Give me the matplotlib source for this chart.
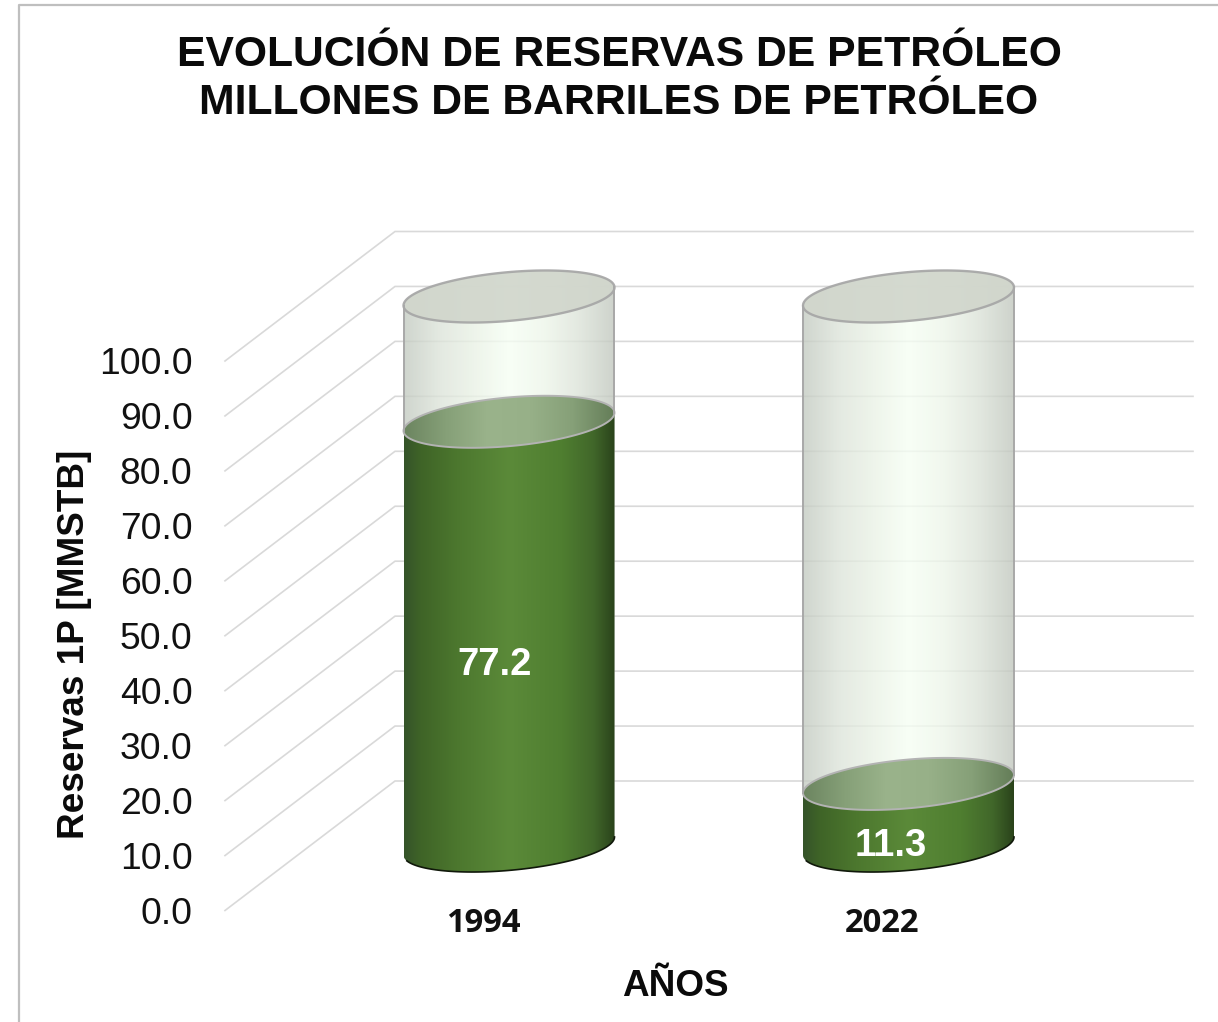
#!/usr/bin/env python3
"""Glass cylinder chart of 1P oil reserves, drawn with a fake 3D floor and wall."""

import matplotlib.pyplot as plt
import numpy as np
from matplotlib.colors import LinearSegmentedColormap
from matplotlib.lines import Line2D
from matplotlib.patches import Polygon

years = ["1994", "2022"]
reserves = [77.2, 11.3]
ticks = [0, 10, 20, 30, 40, 50, 60, 70, 80, 90, 100]

W, H = 1218, 1022
Y_MAX = 100

# pixel scales of the category and value axes, and where zero sits on the bar plane
PX_CAT = 399.5
PX_VAL = 5.495
X0_PX = 509
Y0_PX = 846

# depth of the fake 3D box, in pixels
WALL_LEFT = 395
WALL_RIGHT = 1193
FLOOR_LEFT = 225
BACK_DY = 65
FRONT_DY = 64.5

# cylinder shape, in pixels
RX = 105.5
RY = 24.4
SHEAR = 0.0857

# the value labels do not sit quite on the cylinder axis
VALUE_DX = [-10.5, -13]

plt.rcParams["font.family"] = ["Liberation Sans", "DejaVu Sans"]

GREEN = LinearSegmentedColormap.from_list(
    "green", [(0, "#35542a"), (0.08, "#3f6427"), (0.25, "#4c772e"), (0.5, "#5b8a39"),
              (0.75, "#4f7e30"), (0.9, "#41672a"), (1, "#2a431b")])
LIQUID_TOP = LinearSegmentedColormap.from_list(
    "liquid_top", ["#6c8560", "#86a078", "#9ab38b", "#97b088", "#86a078", "#647d58"])
GLASS = LinearSegmentedColormap.from_list(
    "glass", ["#c4cbc2", "#dde4da", "#eaf2e6", "#f6fff4", "#eef6ea", "#dce3d9", "#c2c8bf"])


def px_x(px):
    return (px - X0_PX) / PX_CAT


def px_y(px):
    return (Y0_PX - px) / PX_VAL


def ellipse(center, value, t):
    # sheared ellipse, so the left and right tangents stay vertical
    x = center + RX * np.cos(t) / PX_CAT
    y = value + (RY * np.sin(t) + SHEAR * RX * np.cos(t)) / PX_VAL
    return np.column_stack([x, y])


def shade(ax, center, low, high, cmap, clip, alpha=1.0):
    grad = np.linspace(0, 1, 256).reshape(1, -1)
    im = ax.imshow(grad, cmap=cmap, aspect="auto", origin="lower", alpha=alpha, zorder=clip.get_zorder(),
                   extent=[center - RX / PX_CAT, center + RX / PX_CAT, low, high])
    ax.add_patch(clip)
    im.set_clip_path(clip)


def side_wall(center, low, high):
    lower = ellipse(center, low, np.linspace(np.pi, 2 * np.pi, 80))
    upper = ellipse(center, high, np.linspace(0, np.pi, 80))
    return np.vstack([lower, upper])


def draw_cylinder(ax, center, value):
    span = (RY + SHEAR * RX + 2) / PX_VAL
    all_t = np.linspace(0, 2 * np.pi, 160)

    # glass body up to the axis maximum, the wall lines show through a little
    body = Polygon(side_wall(center, 0, Y_MAX), closed=True, fc="none", ec="none", zorder=3)
    shade(ax, center, -span, Y_MAX + span, GLASS, body, alpha=0.8)

    # filled part
    fill = Polygon(side_wall(center, 0, value), closed=True, fc="none", ec="none", zorder=4)
    shade(ax, center, -span, value + span, GREEN, fill)
    surface = Polygon(ellipse(center, value, all_t), closed=True, fc="none", ec="none", zorder=5)
    shade(ax, center, value - span, value + span, LIQUID_TOP, surface)
    ax.add_patch(Polygon(ellipse(center, value, all_t), closed=True, fc="none", ec="#b3b3b3", lw=1.4, zorder=6))

    # glass lid and outline
    ax.add_patch(Polygon(ellipse(center, Y_MAX, all_t), closed=True, fc="#d1d6cc", ec="#a6a6a6", lw=1.7,
                         alpha=0.92, zorder=6))
    for side in (-1, 1):
        xs = [center + side * RX / PX_CAT] * 2
        ys = [value + side * SHEAR * RX / PX_VAL, Y_MAX + side * SHEAR * RX / PX_VAL]
        ax.plot(xs, ys, color="#a8a8a8", lw=1.4, zorder=6)
    base = ellipse(center, 0, np.linspace(np.pi * 1.08, 2 * np.pi, 80))
    ax.plot(base[:, 0], base[:, 1], color="#10180a", lw=1.2, zorder=6)


fig = plt.figure(figsize=(W / 100, H / 100), dpi=100)
ax = fig.add_axes([0, 0, 1, 1])
ax.axis("off")

# box gridlines: diagonal on the floor side, then flat along the back wall
for t in ticks:
    ax.plot([px_x(FLOOR_LEFT), px_x(WALL_LEFT), px_x(WALL_RIGHT)],
            [t - FRONT_DY / PX_VAL, t + BACK_DY / PX_VAL, t + BACK_DY / PX_VAL],
            color="#d9d9d9", lw=1.2, zorder=1, solid_joinstyle="miter")
    ax.text(px_x(192.5), t - FRONT_DY / PX_VAL, f"{t:.1f}", ha="right", va="center_baseline",
            fontsize=26.8, color="#111111", zorder=8)

for i, (year, value) in enumerate(zip(years, reserves)):
    draw_cylinder(ax, i, value)
    ax.annotate(f"{value:.1f}", xy=(i, value / 2), xytext=(VALUE_DX[i], -19.4), textcoords="offset points",
                ha="center", va="center_baseline", fontsize=27.5, fontweight="bold", color="white", zorder=8)
    ax.annotate(year, xy=(i, -FRONT_DY / PX_VAL), xytext=(-18.7, -6.5), textcoords="offset points",
                ha="center", va="center_baseline", fontsize=23.6, fontweight="bold", color="#111111",
                family=["Open Sans", "DejaVu Sans"], zorder=8)

ax.set_xlim(px_x(0), px_x(W))
ax.set_ylim(px_y(H), px_y(0))

# chart frame, only the top and left edges are in view
fig.add_artist(Line2D([19 / W, 19 / W, 1], [0, 1 - 5 / H, 1 - 5 / H], color="#bfbfbf", lw=1.6))

fig.text(619 / W, 1 - 55 / H, "EVOLUCIÓN DE RESERVAS DE PETRÓLEO", ha="center", va="center",
         fontsize=30.7, fontweight="bold", color="#0a0a0a")
fig.text(619 / W, 1 - 103 / H, "MILLONES DE BARRILES DE PETRÓLEO", ha="center", va="center",
         fontsize=30.7, fontweight="bold", color="#0a0a0a")
fig.text(75 / W, 1 - 644 / H, "Reservas 1P [MMSTB]", rotation=90, ha="center", va="center",
         fontsize=26.6, fontweight="bold", color="#0a0a0a")
fig.text(675 / W, 1 - 986 / H, "AÑOS", ha="center", va="center",
         fontsize=26.6, fontweight="bold", color="#0a0a0a")

fig.savefig("out.png", dpi=100)
